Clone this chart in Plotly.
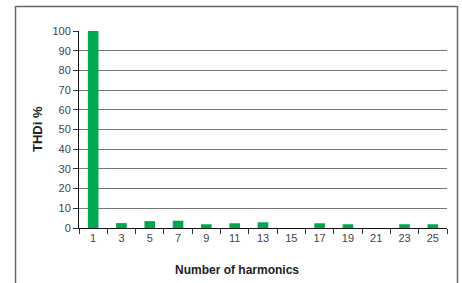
import plotly.graph_objects as go

harmonics = ["1", "3", "5", "7", "9", "11", "13", "15", "17", "19", "21", "23", "25"]
thdi = [100, 2.5, 3.5, 3.7, 1.9, 2.4, 2.9, 0, 2.4, 1.9, 0, 1.9, 1.9]
y_ticks = [0, 10, 20, 30, 40, 50, 60, 70, 80, 90, 100]

W, H = 462, 283
L, R, T, B = 79, 15, 31, 55
pw, ph = W - L - R, H - T - B

def px(x):
    return (x - L) / pw

def py(y):
    return (H - B - y) / ph

fig = go.Figure(go.Bar(x=harmonics, y=thdi, marker=dict(color="#00A84F", line=dict(width=0)), width=0.375))

font = "Liberation Sans, Arial, sans-serif"
frame = dict(color="#666", width=1.5)
fig.update_layout(
    width=W, height=H,
    margin=dict(l=L, r=R, t=T, b=B),
    paper_bgcolor="white", plot_bgcolor="white",
    showlegend=False,
    font=dict(family=font, size=11, color="#444"),
    xaxis=dict(type="category", tickson="boundaries", ticks="outside", ticklen=5, tickcolor="#333",
               showline=True, linecolor="#111", linewidth=1, showgrid=False, automargin=False,
               tickfont=dict(size=11, color="#444")),
    yaxis=dict(range=[0, 100], tickvals=y_ticks, ticks="outside", ticklen=5, tickcolor="#333",
               showline=True, linecolor="#111", linewidth=1, automargin=False,
               showgrid=True, gridcolor="#777", gridwidth=1,
               tickfont=dict(size=11, color="#444")),
    annotations=[
        dict(text="<b>Number of harmonics</b>", xref="paper", yref="paper", x=px(237), y=py(270),
             xanchor="center", yanchor="middle", showarrow=False, font=dict(family=font, size=12, color="#222")),
        dict(text="<b>THDi %</b>", xref="paper", yref="paper", x=px(37), y=py(129), textangle=-90,
             xanchor="center", yanchor="middle", showarrow=False, font=dict(family=font, size=13, color="#222")),
    ],
    shapes=[
        dict(type="line", xref="paper", yref="paper", x0=px(15.5), x1=px(15.5), y0=py(6), y1=py(290), line=frame),
        dict(type="line", xref="paper", yref="paper", x0=px(15.5), x1=px(457.5), y0=py(6.5), y1=py(6.5), line=frame),
        dict(type="line", xref="paper", yref="paper", x0=px(457.5), x1=px(457.5), y0=py(6), y1=py(290), line=frame),
    ],
)
fig.write_html("out.html", config={"displayModeBar": False},
               post_script="document.body.style.margin='0';document.body.style.overflow='hidden';")
